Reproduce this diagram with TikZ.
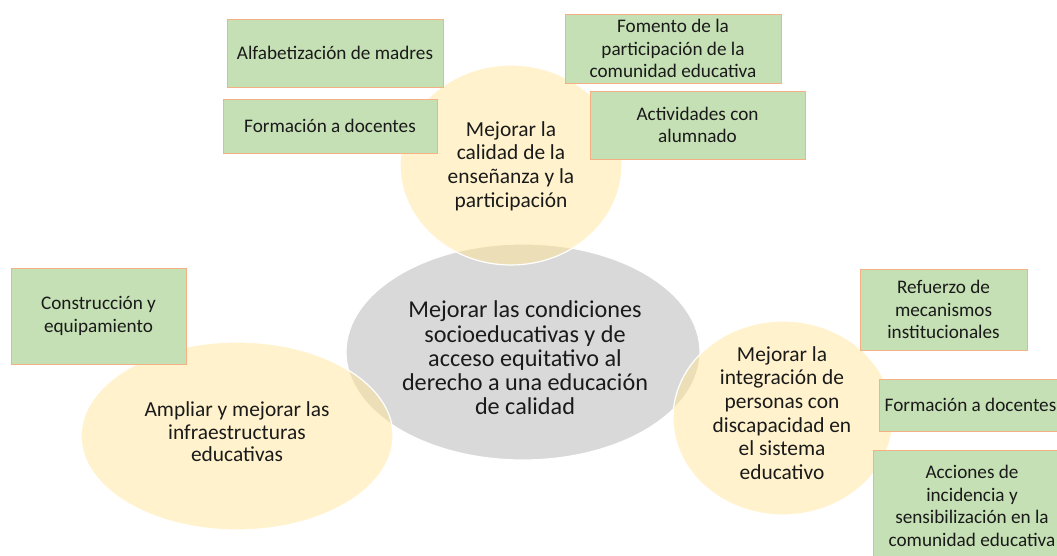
\documentclass[tikz,border=0pt]{standalone}
\usepackage{fontspec}
\setmainfont{Carlito}
\usetikzlibrary{shapes.geometric}
\definecolor{boxgreen}{HTML}{C5E0B4}
\definecolor{boxedge}{HTML}{F4B183}
\definecolor{goalyellow}{HTML}{FFE699}
\definecolor{coregray}{HTML}{D9D9D9}
\definecolor{txtgray}{HTML}{1A1A1A}
\begin{document}
\begin{tikzpicture}[x=1pt,y=-1pt,inner sep=0pt,outer sep=0pt,
core/.style={draw=white,ellipse,line width=1.2pt,fill=coregray},
goal/.style={draw=white,ellipse,line width=1.2pt,fill=goalyellow,fill opacity=0.5},
goaltext/.style={align=center,text=txtgray,font=\fontsize{21.4}{23.6}\selectfont},
coretext/.style={align=center,text=txtgray,font=\fontsize{24.2}{24.3}\selectfont},
action/.style={draw=boxedge,fill=boxgreen,rectangle,line width=0.8pt,align=center,text=txtgray,
  font=\fontsize{19.2}{22.5}\selectfont}]
\useasboundingbox (0,0) rectangle (1057,556);
\clip (0,0) rectangle (1057,556);

% ellipses
\draw (523,352) node[core,minimum width=354,minimum height=216] (core) {};
\draw (511,165) node[goal,minimum width=222,minimum height=200] (quality) {};
\draw (237,436) node[goal,minimum width=312,minimum height=188] (infra) {};
\draw (783,418) node[goal,minimum width=220,minimum height=194] (integ) {};

\draw (525,358) node[coretext] (core-t) {Mejorar las condiciones\\socioeducativas y de\\acceso equitativo al\\derecho a una educación\\de calidad};
\draw (511,166) node[goaltext] (quality-t) {Mejorar la\\calidad de la\\enseñanza y la\\participación};
\draw (237,432) node[goaltext,font=\fontsize{21.4}{22.6}\selectfont] (infra-t) {Ampliar y mejorar las\\infraestructuras\\educativas};
\draw (782,413) node[goaltext] (integ-t) {Mejorar la\\integración de\\personas con\\discapacidad en\\el sistema\\educativo};

% action boxes
\draw (335,53) node[action,minimum width=216,minimum height=68] (literacy) {Alfabetización de madres};
\draw (330,126) node[action,minimum width=214,minimum height=54] (training1) {Formación a docentes};
\draw (673,48.5) node[action,minimum width=216,minimum height=69] (community) {Fomento de la\\participación de la\\comunidad educativa};
\draw (697.5,125) node[action,minimum width=215,minimum height=68] (pupils) {Actividades con\\alumnado};
\draw (98.5,316) node[action,minimum width=175,minimum height=96] (building) {Construcción y\\equipamiento};
\draw (943.5,309.5) node[action,minimum width=167,minimum height=81] (mechanisms) {Refuerzo de\\mecanismos\\institucionales};
\draw (970.5,405) node[action,minimum width=183,minimum height=52] (training2) {Formación a docentes};
\draw (972,506) node[action,minimum width=198,minimum height=112] (advocacy) {Acciones de\\incidencia y\\sensibilización en la\\comunidad educativa};
\end{tikzpicture}
\end{document}
